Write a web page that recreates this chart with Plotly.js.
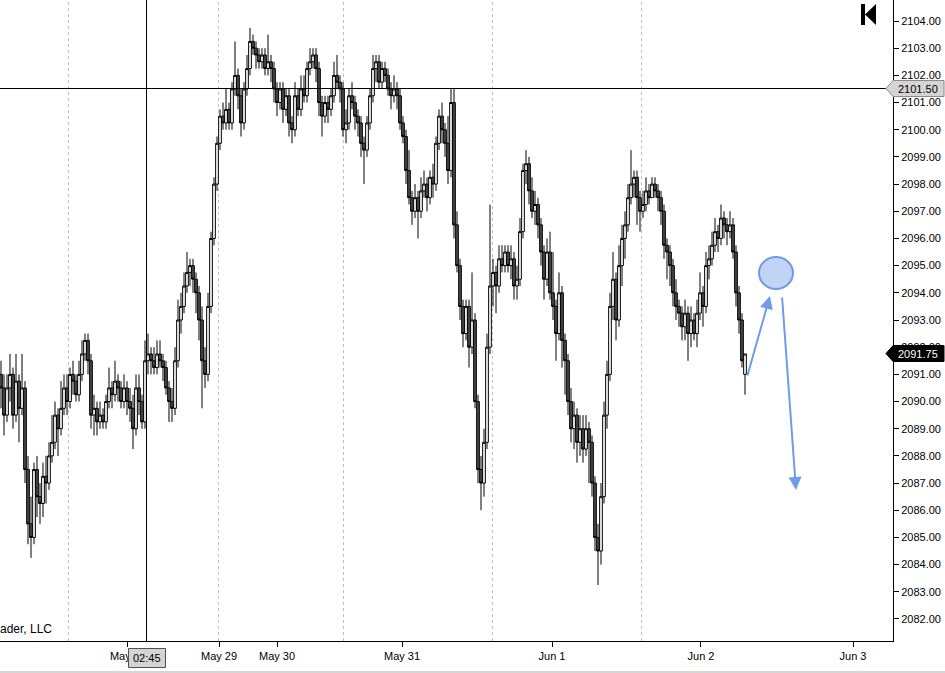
<!DOCTYPE html>
<html>
<head>
<meta charset="utf-8">
<script src="https://cdn.plot.ly/plotly-3.0.1.min.js"></script>
<style>html,body{margin:0;padding:0;background:#fff;}#chart{width:945px;height:673px;}</style>
</head>
<body>
<div id="chart"></div>
<script>
// ---- data ----
var openP = [2091,2090.5,2089.5,2090.5,2091,2089.5,2090.75,2089.75,2090.5,2087.5,
2085.5,2085,2087.5,2086.5,2086.25,2087.25,2087,2088,2088.5,2089.5,
2089,2089.75,2090.5,2090,2091,2090.75,2090.25,2091,2091.75,2092.25,
2091.5,2089.5,2089.75,2089.25,2089.5,2089.25,2090,2090.5,2090.25,2090.75,
2090.5,2090,2090.5,2090,2089.75,2089,2090.5,2090,2089.25,2091.5,
2091.75,2091.5,2091.25,2091.75,2091.5,2091.25,2090.5,2090,2089.75,2091.5,
2093,2093.5,2094.25,2094.75,2095,2094.5,2094,2093,2091.5,2091,
2093.5,2096,2098,2099.5,2100.5,2100.25,2100.75,2100.25,2101.5,2102,
2101.25,2100.25,2101.5,2102.25,2103.25,2103,2102.75,2102.5,2102.75,2102.25,
2102.5,2102.25,2101.5,2101,2101.5,2100.75,2101.25,2100.25,2100,2101.25,
2100.75,2101.5,2101.25,2102.25,2102.5,2102.75,2102.25,2101,2100.5,2101,
2100.75,2101.25,2102,2101.75,2101.5,2100,2100.25,2101.25,2101,2100.5,
2100.25,2099.5,2099.25,2100.25,2101.25,2102.25,2102.5,2101.75,2102.25,2102,
2101.5,2101.25,2101.5,2101.25,2100.25,2099.75,2098.5,2097.5,2097,2097.5,
2097,2097.75,2098,2097.5,2098.25,2098,2099.5,2100.5,2100,2099.5,
2098.5,2101,2096.5,2095,2093.5,2092.5,2093.5,2092,2093,2090,
2087.5,2087,2088.5,2092,2094.25,2094.75,2094.25,2095.25,2095,2095.5,
2095,2095.25,2094.25,2094.5,2096.25,2098.5,2098.75,2097.75,2097,2097.25,
2096.5,2095.5,2094.5,2095.5,2094,2093.5,2092.5,2094,2092.25,2091.5,
2090,2089,2089.5,2088.5,2089,2088.25,2089,2088.5,2087,2085,
2084.5,2086.5,2089.5,2091,2093.5,2094.5,2093,2095,2096,2096.5,
2097.5,2098,2098.25,2097.5,2097,2097.25,2097.75,2097.5,2098,2097.75,
2097.5,2097,2095.75,2095.5,2095,2094,2093.5,2093.25,2092.75,2093.25,
2092.5,2093,2092.5,2093.25,2094,2093.5,2095,2095.25,2095.75,2096.25,
2096,2096.75,2096.5,2096.25,2096.5,2095.5,2094,2093,2091];

var highP = [2091.5,2091,2091,2091.75,2091.25,2091.75,2091,2091.75,2090.75,2088,
2086.5,2087.75,2088,2087,2087.75,2088,2088.5,2089.5,2090,2089.75,
2090.75,2091,2091,2091.25,2091.5,2091,2091.5,2092.25,2092.5,2092.5,
2091.75,2090.25,2090,2090,2089.75,2090.25,2091.25,2090.75,2091.5,2091,
2090.75,2091,2090.75,2090.5,2090.25,2091,2091,2090.25,2092.25,2092.5,
2092,2092,2092.25,2092.25,2091.75,2091.5,2090.75,2090.5,2092,2093.75,
2094,2094.75,2095.5,2095.25,2095.25,2094.75,2094.25,2093.5,2092,2094,
2096.25,2098.25,2099.75,2100.75,2101,2101.5,2101,2101.75,2103.25,2102.25,
2101.5,2101.75,2102.75,2103.75,2103.5,2103.25,2103,2103,2103,2103.5,
2102.75,2102.5,2101.75,2101.75,2101.75,2101.5,2101.5,2100.5,2101.75,2101.5,
2102,2102,2102.5,2103,2103,2103,2102.5,2101.25,2101.25,2101.25,
2101.5,2102.5,2102.75,2102,2101.75,2100.75,2101.5,2101.75,2101.25,2100.75,
2100.5,2099.75,2100.5,2101.5,2102.75,2102.75,2102.75,2102.5,2102.5,2102.25,
2101.75,2102,2101.75,2101.5,2100.5,2100,2099.25,2097.75,2098,2097.75,
2098.25,2098.5,2098.25,2098.5,2098.75,2099.75,2100.75,2101,2100.25,2100.5,
2101.5,2101.5,2097,2095.25,2093.75,2093.75,2093.75,2094.75,2093.25,2090.25,
2088,2089,2092.5,2097.25,2095.25,2095,2095.75,2095.75,2095.75,2095.75,
2095.75,2095.5,2095,2096.75,2098.75,2099.25,2099,2098.25,2097.75,2097.5,
2096.75,2095.75,2096,2096.25,2095.5,2093.75,2094.75,2094.25,2092.5,2091.75,
2090.5,2090,2089.75,2089.5,2089.5,2089.5,2089.25,2088.75,2087.25,2085.5,
2087,2090,2091.5,2094,2095.5,2094.75,2095.75,2096.5,2097,2098,
2099.25,2098.5,2098.5,2097.75,2097.75,2098.25,2098,2098.25,2098.25,2098,
2097.75,2097.25,2096,2095.75,2095.25,2094.5,2093.75,2093.5,2093.75,2093.5,
2093.5,2093.25,2093.75,2094.75,2094.25,2095.5,2095.75,2096.25,2096.75,2096.5,
2097.25,2097,2096.75,2097,2096.75,2095.75,2094.25,2093.25,2091.75];

var lowP = [2089.75,2088.75,2089.25,2090,2089,2089.25,2088.5,2089.5,2087,2084.75,
2084.25,2084.75,2085.75,2085.5,2085.75,2086.25,2086.75,2087.75,2088.25,2088,
2088.75,2089.5,2089.5,2089.75,2090.25,2090,2090,2090.75,2091.5,2091,
2089,2088.75,2088.75,2089,2089,2089,2089.75,2089.75,2090,2090,
2089.75,2089.75,2089.5,2089.25,2088.25,2088.75,2089.5,2089,2089,2091,
2091,2091,2091,2091.25,2090.75,2090.25,2089.25,2089.25,2089.5,2091.25,
2092.5,2093.25,2094,2094.25,2094,2093.25,2092.25,2089.75,2090.5,2090.75,
2093.25,2095.75,2097.75,2099.25,2100,2100,2100,2100,2101.25,2100.75,
2099.75,2100,2101.25,2102,2102.75,2102.25,2102.25,2102.25,2102,2102,
2101.75,2101,2100.5,2100.75,2100.25,2100.5,2099.75,2099.5,2099.75,2100.5,
2100.5,2101,2101,2102,2102.25,2101.75,2100.5,2099.75,2100.25,2100.25,
2100.5,2101,2101.5,2101,2099.75,2099.5,2100,2100.75,2100,2099.75,
2099,2098,2099,2100,2101,2101.75,2101.5,2101.5,2101.75,2101.25,
2100.75,2101,2100.75,2100,2099.5,2098,2097.25,2096.5,2096.75,2096,
2096.75,2097.5,2097,2097.25,2097.5,2097.75,2099.25,2099.5,2099,2098,
2098.25,2096,2094.75,2093,2092,2092.25,2091.25,2091.75,2089.75,2087,
2086,2086.5,2088.25,2091.75,2093.5,2093.25,2094,2094.75,2094.75,2094.75,
2094.5,2093.75,2093.75,2094.25,2096,2098,2097.25,2096.75,2096.5,2096,
2095,2093.75,2094.25,2093.75,2093,2091.5,2092.25,2091.25,2090.25,2089.5,
2088.5,2088.25,2087.75,2088,2087.75,2088,2087,2086.5,2084.5,2083.25,
2084,2086.25,2089,2090.75,2093,2092.25,2092.75,2094.25,2095.25,2096.25,
2097.25,2097.5,2096.5,2096.25,2096.75,2097,2097.25,2097.5,2097.5,2097,
2096.5,2095.25,2094.5,2094.25,2093.5,2093,2092.75,2092.25,2092.25,2091.5,
2092,2092.25,2092,2093,2092.75,2093.25,2094.5,2095,2095.5,2095.5,
2095.75,2096,2095.75,2096,2095.25,2093.5,2092.5,2091.25,2090.25];

var closeP = [2090.5,2089.5,2090.5,2091,2089.5,2090.75,2089.75,2090.5,2087.5,2085.5,
2085,2087.5,2086.5,2086.25,2087.25,2087,2088,2088.5,2089.5,2089,
2089.75,2090.5,2090,2091,2090.75,2090.25,2091,2091.75,2092.25,2091.5,
2089.5,2089.75,2089.25,2089.5,2089.25,2090,2090.5,2090.25,2090.75,2090.5,
2090,2090.5,2090,2089.75,2089,2090.5,2090,2089.25,2091.5,2091.75,
2091.5,2091.25,2091.75,2091.5,2091.25,2090.5,2090,2089.75,2091.5,2093,
2093.5,2094.25,2094.75,2095,2094.5,2094,2093,2091.5,2091,2093.5,
2096,2098,2099.5,2100.5,2100.25,2100.75,2100.25,2101.5,2102,2101.25,
2100.25,2101.5,2102.25,2103.25,2103,2102.75,2102.5,2102.75,2102.25,2102.5,
2102.25,2101.5,2101,2101.5,2100.75,2101.25,2100.25,2100,2101.25,2100.75,
2101.5,2101.25,2102.25,2102.5,2102.75,2102.25,2101,2100.5,2101,2100.75,
2101.25,2102,2101.75,2101.5,2100,2100.25,2101.25,2101,2100.5,2100.25,
2099.5,2099.25,2100.25,2101.25,2102.25,2102.5,2101.75,2102.25,2102,2101.5,
2101.25,2101.5,2101.25,2100.25,2099.75,2098.5,2097.5,2097,2097.5,2097,
2097.75,2098,2097.5,2098.25,2098,2099.5,2100.5,2100,2099.5,2098.5,
2101,2096.5,2095,2093.5,2092.5,2093.5,2092,2093,2090,2087.5,
2087,2088.5,2092,2094.25,2094.75,2094.25,2095.25,2095,2095.5,2095,
2095.25,2094.25,2094.5,2096.25,2098.5,2098.75,2097.75,2097,2097.25,2096.5,
2095.5,2094.5,2095.5,2094,2093.5,2092.5,2094,2092.25,2091.5,2090,
2089,2089.5,2088.5,2089,2088.25,2089,2088.5,2087,2085,2084.5,
2086.5,2089.5,2091,2093.5,2094.5,2093,2095,2096,2096.5,2097.5,
2098,2098.25,2097.5,2097,2097.25,2097.75,2097.5,2098,2097.75,2097.5,
2097,2095.75,2095.5,2095,2094,2093.5,2093.25,2092.75,2093.25,2092.5,
2093,2092.5,2093.25,2094,2093.5,2095,2095.25,2095.75,2096.25,2096,
2096.75,2096.5,2096.25,2096.5,2095.5,2094,2093,2091.5,2091.75];

var dateLabels = ["May 28","May 29","May 30","May 31","Jun 1","Jun 2","Jun 3"];
var dateTickBars = [42.33, 72.67, 92, 133.67, 183.67, 233.33, 284];
var yTickVals = [2082,2083,2084,2085,2086,2087,2088,2089,2090,2091,2092,2093,2094,2095,2096,2097,2098,2099,2100,2101,2102,2103,2104];
var crossPrice = 2101.50;
var lastPrice = 2091.75;
var crossTimeLabel = "02:45";
var copyrightText = "ader, LLC";

// ---- layout helpers ----
var W = 945, H = 673, PL = 0, PR = 893, PT = 0, PB = 641;
var YMIN = 2081.19, YMAX = 2104.773;
function X(p){ return (p - PL) / (PR - PL); }
function Y(p){ return (PB - p) / (PB - PT); }
function YV(v){ return (v - YMIN) / (YMAX - YMIN); }
function crispY(v){ var p = PB - YV(v) * (PB - PT); return Y(Math.floor(p) + 0.5); }

var idx = closeP.map(function(_, i){ return i; });

var trace = {
  type: 'candlestick',
  x: idx, open: openP, high: highP, low: lowP, close: closeP,
  increasing: {line: {color: '#000000', width: 1}, fillcolor: '#ffffff'},
  decreasing: {line: {color: '#000000', width: 1}, fillcolor: '#4a4a4a'},
  whiskerwidth: 0,
  hoverinfo: 'skip',
  showlegend: false
};

var FONT = 'Liberation Sans, Arial, sans-serif';
var shapes = [];
[68, 218, 343, 492, 641].forEach(function(p){
  shapes.push({type:'line', xref:'paper', yref:'paper', x0:X(p + 0.5), x1:X(p + 0.5), y0:0, y1:1,
    line:{color:'#bdbdbd', width:1, dash:'3px,3px'}, layer:'below'});
});
// crosshair
shapes.push({type:'line', xref:'paper', yref:'paper', x0:X(146.5), x1:X(146.5), y0:0, y1:1, line:{color:'#000', width:1}});
shapes.push({type:'line', xref:'paper', yref:'paper', x0:0, x1:X(886), y0:crispY(crossPrice), y1:crispY(crossPrice), line:{color:'#000', width:1}});
// price tags
function tag(v, fill, lineCol){
  var yc = crispY(v), h = 8 / (PB - PT);
  return {type:'path', xref:'paper', yref:'paper',
    path: 'M ' + X(886) + ' ' + yc + ' L ' + X(893) + ' ' + (yc + h) + ' L ' + X(944) + ' ' + (yc + h) +
          ' L ' + X(944) + ' ' + (yc - h) + ' L ' + X(893) + ' ' + (yc - h) + ' Z',
    fillcolor: fill, line:{color: lineCol, width:1}};
}
shapes.push(tag(crossPrice, '#d4d4d4', '#8a8a8a'));
shapes.push(tag(lastPrice, '#000000', '#000000'));
// time box
shapes.push({type:'rect', xref:'paper', yref:'paper', x0:X(128.5), x1:X(165.5), y0:Y(667.5), y1:Y(648.5),
  fillcolor:'#d4d4d4', line:{color:'#505050', width:1}});
// "K" icon
shapes.push({type:'rect', xref:'paper', yref:'paper', x0:X(861), x1:X(865), y0:Y(25), y1:Y(4),
  fillcolor:'#000', line:{width:0}});
shapes.push({type:'path', xref:'paper', yref:'paper',
  path:'M ' + X(865) + ' ' + Y(14.5) + ' L ' + X(876) + ' ' + Y(4) + ' L ' + X(876) + ' ' + Y(25) + ' Z',
  fillcolor:'#000', line:{width:0}});
// blue drawing: ellipse
shapes.push({type:'circle', xref:'paper', yref:'paper', x0:X(759), x1:X(793), y0:Y(289), y1:Y(257),
  fillcolor:'rgba(120,160,235,0.45)', line:{color:'#6f9be8', width:2}});
// bottom strip line
shapes.push({type:'line', xref:'paper', yref:'paper', x0:0, x1:X(945), y0:Y(672), y1:Y(672), line:{color:'#d6d6d6', width:2}});

var annotations = [
  {xref:'paper', yref:'paper', x:X(918), y:crispY(crossPrice), xanchor:'center', yanchor:'middle',
   text:crossPrice.toFixed(2), showarrow:false, font:{family:FONT, size:11, color:'#000'}},
  {xref:'paper', yref:'paper', x:X(918), y:crispY(lastPrice), xanchor:'center', yanchor:'middle',
   text:lastPrice.toFixed(2), showarrow:false, font:{family:FONT, size:11, color:'#fff'}},
  {xref:'paper', yref:'paper', x:X(147), y:Y(658), xanchor:'center', yanchor:'middle',
   text:crossTimeLabel, showarrow:false, font:{family:FONT, size:11, color:'#000'}},
  {xref:'paper', yref:'paper', x:0, xanchor:'left', yanchor:'middle', xshift:-2, y:Y(629),
   text:copyrightText, showarrow:false, font:{family:FONT, size:12, color:'#000'}},
  {xref:'paper', yref:'paper', x:X(770), y:Y(296), ax:747-770, ay:377-296, axref:'pixel', ayref:'pixel',
   text:'', showarrow:true, arrowhead:2, arrowsize:1.3, arrowwidth:2, arrowcolor:'#6f9be8'},
  {xref:'paper', yref:'paper', x:X(796), y:Y(490), ax:782-796, ay:296-490, axref:'pixel', ayref:'pixel',
   text:'', showarrow:true, arrowhead:2, arrowsize:1.3, arrowwidth:2, arrowcolor:'#6f9be8'}
];

var layout = {
  width: W, height: H,
  margin: {l: PL, r: W - PR, t: PT, b: H - PB, pad: 0},
  paper_bgcolor: '#ffffff', plot_bgcolor: '#ffffff',
  showlegend: false,
  boxgap: 0.1, boxgroupgap: 0,
  font: {family: FONT, size: 11, color: '#000'},
  xaxis: {
    range: [(0 - 1) / 3, (893 - 1) / 3],
    rangeslider: {visible: false},
    tickmode: 'array', tickvals: dateTickBars, ticktext: dateLabels,
    ticks: 'outside', ticklen: 5, tickcolor: '#000', tickwidth: 1,
    showline: true, linecolor: '#000', linewidth: 1,
    showgrid: false, zeroline: false, fixedrange: true,
    tickfont: {family: FONT, size: 11, color: '#000'}
  },
  yaxis: {
    side: 'right', range: [YMIN, YMAX],
    tickmode: 'array', tickvals: yTickVals, ticktext: yTickVals.map(function(v){ return v.toFixed(2); }),
    ticks: 'outside', ticklen: 5, tickcolor: '#000', tickwidth: 1,
    showline: true, linecolor: '#000', linewidth: 1,
    showgrid: false, zeroline: false, fixedrange: true,
    tickfont: {family: FONT, size: 11, color: '#000'}
  },
  shapes: shapes,
  annotations: annotations
};

Plotly.newPlot('chart', [trace], layout, {displayModeBar: false, staticPlot: true});
</script>
</body>
</html>
